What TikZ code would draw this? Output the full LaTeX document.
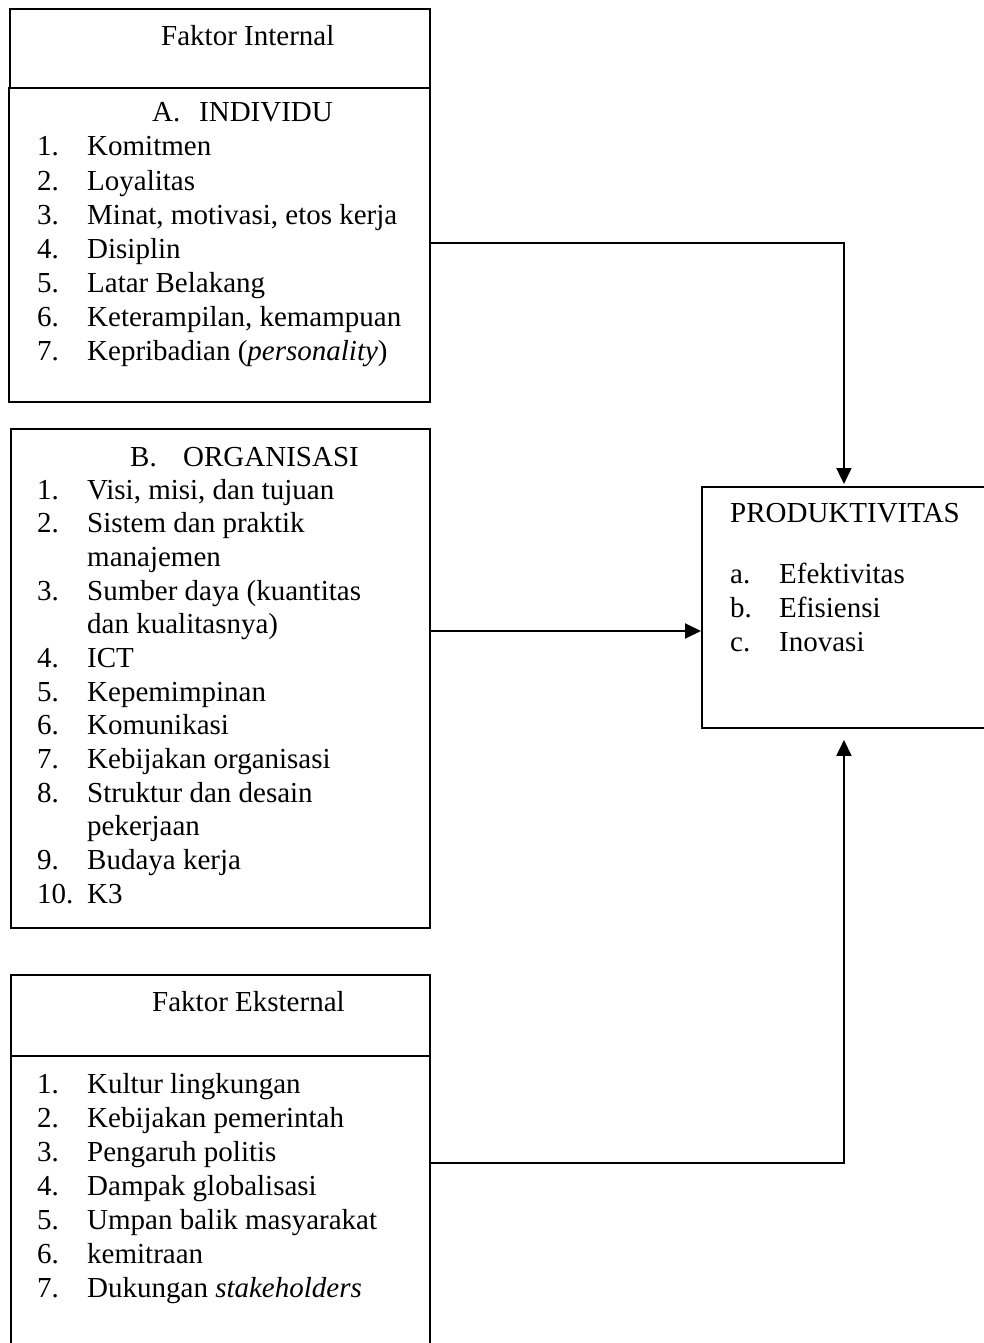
\documentclass[tikz,border=0pt]{standalone}
\usepackage{fontspec}
\setmainfont{Liberation Serif}
\usetikzlibrary{arrows.meta}
\tikzset{
  box/.style={draw, line width=1.9pt, rectangle, anchor=north west, inner sep=0pt},
  txt/.style={anchor=base west, inner sep=0pt, font=\fontsize{29}{34}\selectfont},
  conn/.style={line width=1.9pt, -{Triangle[length=16pt,width=15pt]}}
}
\begin{document}
\begin{tikzpicture}[x=1pt,y=-1pt]
\useasboundingbox (0,0) rectangle (984,1343);
% boxes
\node[box, minimum width=420pt, minimum height=79pt] (fi) at (9,8) {};
\node[box, minimum width=421pt, minimum height=314pt] (ind) at (8,87) {};
\node[box, minimum width=419pt, minimum height=499pt] (org) at (10,428) {};
\node[box, minimum width=419pt, minimum height=400pt] (eks) at (10,974) {};
\node[box, minimum width=284pt, minimum height=241pt] (prod) at (701,486) {};
\draw[line width=1.9pt] (eks.west |- 0,1056) -- (eks.east |- 0,1056);
% Faktor Internal / Individu
\node[txt] (fiT) at (161,46) {Faktor Internal};
\node[txt] (indA) at (152,122) {A.};
\node[txt] (indH) at (199,122) {INDIVIDU};
\foreach \t [count=\i] in {Komitmen, Loyalitas, {Minat, motivasi, etos kerja}, Disiplin, Latar Belakang, {Keterampilan, kemampuan}, {Kepribadian (\textit{personality})}}{
  \node[txt] (indn\i) at (37,{156+34*(\i-1)}) {\i.};
  \node[txt] (indt\i) at (87,{156+34*(\i-1)}) {\t};
}
% Organisasi
\node[txt] (orgB) at (130,466) {B.};
\node[txt] (orgH) at (183,466) {ORGANISASI};
\def\ls{33.67}
\node[txt] (orgn1) at (37,{499+\ls*0}) {1.};
\node[txt] (orgt1) at (87,{499+\ls*0}) {Visi, misi, dan tujuan};
\node[txt] (orgn2) at (37,{499+\ls*1}) {2.};
\node[txt] (orgt2) at (87,{499+\ls*1}) {Sistem dan praktik};
\node[txt] (orgt2b) at (87,{499+\ls*2}) {manajemen};
\node[txt] (orgn3) at (37,{499+\ls*3}) {3.};
\node[txt] (orgt3) at (87,{499+\ls*3}) {Sumber daya (kuantitas};
\node[txt] (orgt3b) at (87,{499+\ls*4}) {dan kualitasnya)};
\node[txt] (orgn4) at (37,{499+\ls*5}) {4.};
\node[txt] (orgt4) at (87,{499+\ls*5}) {ICT};
\node[txt] (orgn5) at (37,{499+\ls*6}) {5.};
\node[txt] (orgt5) at (87,{499+\ls*6}) {Kepemimpinan};
\node[txt] (orgn6) at (37,{499+\ls*7}) {6.};
\node[txt] (orgt6) at (87,{499+\ls*7}) {Komunikasi};
\node[txt] (orgn7) at (37,{499+\ls*8}) {7.};
\node[txt] (orgt7) at (87,{499+\ls*8}) {Kebijakan organisasi};
\node[txt] (orgn8) at (37,{499+\ls*9}) {8.};
\node[txt] (orgt8) at (87,{499+\ls*9}) {Struktur dan desain};
\node[txt] (orgt8b) at (87,{499+\ls*10}) {pekerjaan};
\node[txt] (orgn9) at (37,{499+\ls*11}) {9.};
\node[txt] (orgt9) at (87,{499+\ls*11}) {Budaya kerja};
\node[txt] (orgn10) at (37,{499+\ls*12}) {10.};
\node[txt] (orgt10) at (87,{499+\ls*12}) {K3};
% Faktor Eksternal
\node[txt] (eksT) at (152,1011) {Faktor Eksternal};
\foreach \t [count=\i] in {Kultur lingkungan, Kebijakan pemerintah, Pengaruh politis, Dampak globalisasi, Umpan balik masyarakat, kemitraan, {Dukungan \textit{stakeholders}}}{
  \node[txt] (eksn\i) at (37,{1093+34*(\i-1)}) {\i.};
  \node[txt] (ekst\i) at (87,{1093+34*(\i-1)}) {\t};
}
% Produktivitas
\node[txt] (prodT) at (730,522) {PRODUKTIVITAS};
\node[txt] (prodna) at (730,583) {a.};
\node[txt] (prodta) at (779,583) {Efektivitas};
\node[txt] (prodnb) at (730,617) {b.};
\node[txt] (prodtb) at (779,617) {Efisiensi};
\node[txt] (prodnc) at (730,651) {c.};
\node[txt] (prodtc) at (779,651) {Inovasi};
% connectors
\coordinate (a1) at (429,243);
\coordinate (a2) at (429,631);
\coordinate (a3) at (429,1163);
\draw[conn] (ind.east |- a1) -| ([yshift=2pt]prod.north);
\draw[conn] (org.east |- a2) -- (prod.west |- a2);
\draw[conn] (eks.east |- a3) -| ([yshift=-11pt]prod.south);
\end{tikzpicture}
\end{document}
